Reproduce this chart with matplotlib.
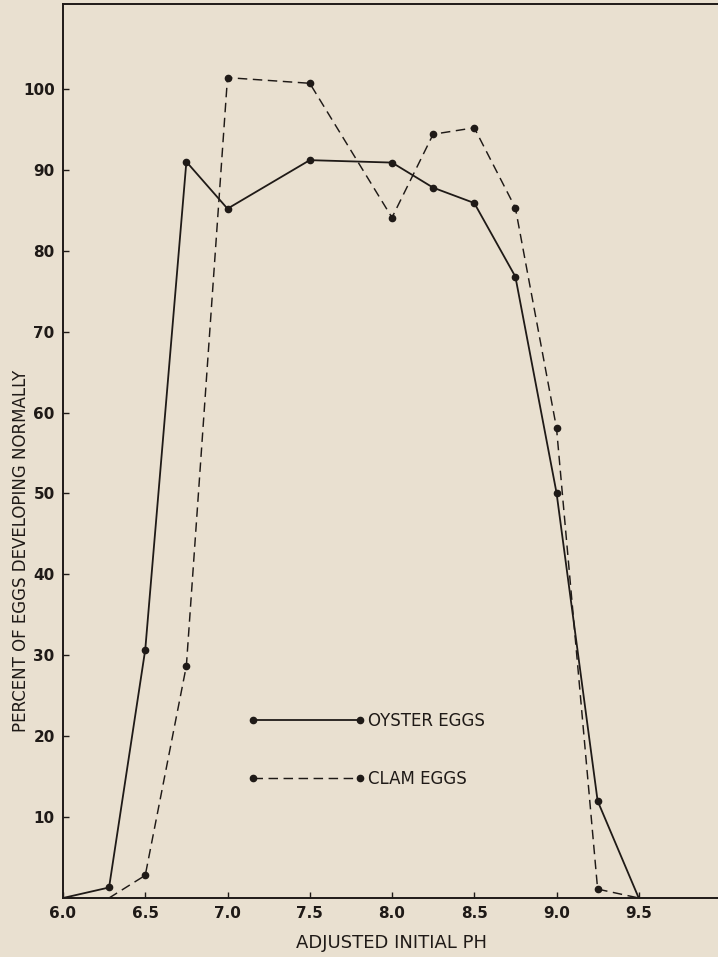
import matplotlib
matplotlib.use('Agg')
import matplotlib.pyplot as plt
from matplotlib.lines import Line2D

# values
ph_oyster = [6.0, 6.28, 6.5, 6.75, 7.0, 7.5, 8.0, 8.25, 8.5, 8.75, 9.0, 9.25, 9.5]
pct_oyster = [0, 1.3, 30.7, 91.0, 85.2, 91.2, 90.9, 87.8, 85.9, 76.8, 50.1, 12.0, 0]

ph_clam = [6.28, 6.5, 6.75, 7.0, 7.5, 8.0, 8.25, 8.5, 8.75, 9.0, 9.25, 9.5]
pct_clam = [0, 2.8, 28.7, 101.4, 100.7, 84.1, 94.4, 95.2, 85.3, 58.1, 1.1, 0]

x_ticks = [6.0, 6.5, 7.0, 7.5, 8.0, 8.5, 9.0, 9.5]
y_ticks = [10, 20, 30, 40, 50, 60, 70, 80, 90, 100]

paper = '#e9e0d0'
ink = '#1f1a17'

plt.rcParams['font.family'] = ['DejaVu Sans']

fig = plt.figure(figsize=(7.18, 9.57), dpi=100)
fig.patch.set_facecolor(paper)
ax = fig.add_axes([63 / 718, 59 / 957, 658 / 718, 894 / 957])
ax.set_facecolor(paper)

# lines without end markers, dots only on the measured points
ax.plot(ph_oyster, pct_oyster, color=ink, lw=1.3, solid_joinstyle='miter',
        marker='o', ms=4.5, markevery=slice(1, -1), zorder=3)
ax.plot(ph_clam, pct_clam, color=ink, lw=1.05, linestyle=(0, (6.5, 3.8)),
        marker='o', ms=4.5, markevery=slice(1, -1), zorder=3)

ax.set_xlim(6.0, 10.0)
ax.set_ylim(0, 110.5)
ax.set_xticks(x_ticks)
ax.set_xticklabels([f'{v:.1f}' for v in x_ticks])
ax.set_yticks(y_ticks)
ax.set_yticklabels([str(v) for v in y_ticks])

ax.tick_params(direction='in', length=4, width=1, color=ink,
               labelsize=11, labelcolor=ink)
ax.tick_params(axis='x', pad=6)
ax.tick_params(axis='y', pad=6)
for lbl in ax.get_xticklabels() + ax.get_yticklabels():
    lbl.set_fontweight('bold')

for side in ['left', 'bottom', 'top', 'right']:
    ax.spines[side].set_color(ink)
    ax.spines[side].set_linewidth(1.4)

ax.set_xlabel('ADJUSTED INITIAL PH', fontsize=13, color=ink, labelpad=9)
ax.set_ylabel('PERCENT OF EGGS DEVELOPING NORMALLY', fontsize=12, color=ink)
ax.yaxis.set_label_coords(-0.05, 0.388)

handles = [
    Line2D([], [], color=ink, lw=1.3, marker='o', ms=4.5),
    Line2D([], [], color=ink, lw=1.05, linestyle=(0, (6.5, 3.8)), marker='o', ms=4.5),
]
leg = ax.legend(handles, ['OYSTER EGGS', 'CLAM EGGS'], loc='center left',
                bbox_to_anchor=(0.281, 0.166), frameon=False, numpoints=2,
                handlelength=7.0, handletextpad=0.2, labelspacing=2.4,
                borderpad=0, borderaxespad=0, fontsize=12)
for t in leg.get_texts():
    t.set_color(ink)

fig.savefig('out.png', dpi=100, facecolor=paper)
